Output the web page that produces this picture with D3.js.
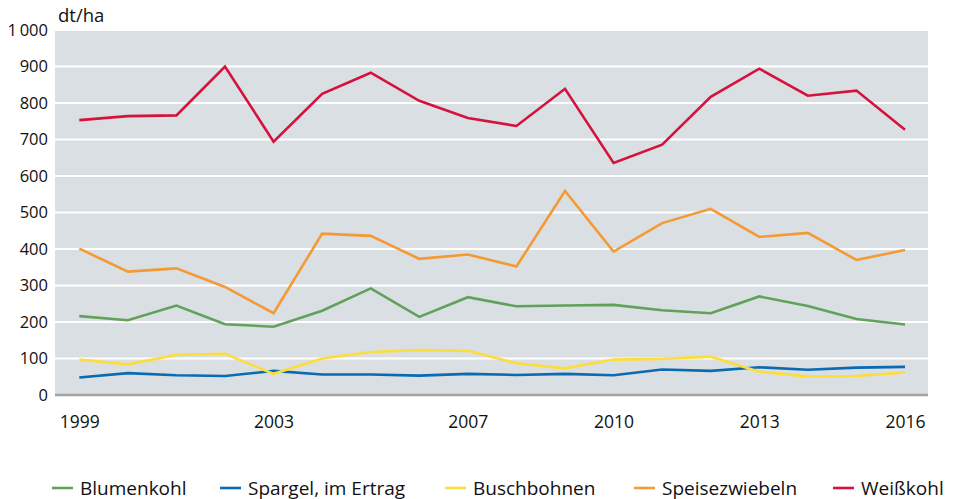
<!DOCTYPE html>
<html><head><meta charset="utf-8">
<script src="https://cdn.jsdelivr.net/npm/d3@7"></script>
<style>body{margin:0;background:#fff;} text{font-family:"Open Sans","Noto Sans",sans-serif;fill:#111;}</style>
</head><body>
<svg id="c" width="958" height="499"></svg>
<script>
const years = [1999,2000,2001,2002,2003,2004,2005,2006,2007,2008,2009,2010,2011,2012,2013,2014,2015,2016];
const tickYears = [1999,2003,2007,2010,2013,2016];
const yTicks = [0,100,200,300,400,500,600,700,800,900,1000];
const blumenkohl = [216,205,245,194,187,231,292,214,268,243,245,247,232,224,270,244,208,193];
const spargel = [48,60,54,52,66,56,56,53,58,55,58,54,70,66,76,69,75,77];
const buschbohnen = [97,84,110,113,58,100,118,123,121,87,73,97,99,105,64,51,52,62];
const speisezwiebeln = [401,338,347,296,224,442,436,373,385,352,559,393,471,510,433,444,370,397];
const weisskohl = [753,764,766,900,694,825,883,806,759,737,839,636,686,817,894,820,834,727];
const seriesNames = ["Blumenkohl","Spargel, im Ertrag","Buschbohnen","Speisezwiebeln","Weißkohl"];
const seriesColors = ["#62a15a","#0a6ab2","#fddd3d","#f39a34","#d5123d"];
const seriesData = [blumenkohl,spargel,buschbohnen,speisezwiebeln,weisskohl];

const svg = d3.select("#c");
const L=55,R=928,T=30,B=395;
const x = d3.scaleLinear().domain([1999,2016]).range([79.3,905]);
const y = d3.scaleLinear().domain([0,1000]).range([B,T]);
const FF = "'Open Sans','Noto Sans',sans-serif";

svg.append("rect").attr("x",L).attr("y",T+1).attr("width",R-L).attr("height",B-T-1).attr("fill","#dadfe3");
// grid
svg.append("g").selectAll("line").data(yTicks.filter(d=>d>0&&d<1000)).join("line")
  .attr("x1",L).attr("x2",R).attr("y1",d=>y(d)).attr("y2",d=>y(d))
  .attr("stroke","#fff").attr("stroke-width",2);
// baseline
svg.append("line").attr("x1",L).attr("x2",R).attr("y1",B).attr("y2",B).attr("stroke","#a3a3a3").attr("stroke-width",2.5);

// y axis
const fmt = d => d>=1000 ? d3.format(",")(d).replace(",", "\u2009") : String(d);
const yAxis = d3.axisLeft(y).tickValues(yTicks).tickFormat(fmt).tickSize(0).tickPadding(7);
const gy = svg.append("g").attr("transform",`translate(${L},0)`).call(yAxis);
gy.select(".domain").remove();
gy.selectAll("text").attr("font-size",16.5).attr("font-family",FF).attr("fill","#111");

// x axis
const xAxis = d3.axisBottom(x).tickValues(tickYears).tickFormat(d3.format("d")).tickSize(0).tickPadding(21);
const gx = svg.append("g").attr("transform",`translate(0,${B})`).call(xAxis);
gx.select(".domain").remove();
gx.selectAll("text").attr("font-size",17.5).attr("font-family",FF).attr("fill","#111");

svg.append("text").attr("x",58).attr("y",22).attr("font-size",18.5).text("dt/ha");

// lines
const line = d3.line().x((d,i)=>x(years[i])).y(d=>y(d));
svg.append("g").selectAll("path").data(seriesData).join("path")
  .attr("d",line).attr("fill","none")
  .attr("stroke",(d,i)=>seriesColors[i]).attr("stroke-width",2.6).attr("stroke-linejoin","miter");

// legend
const legendX = [52,220,445,634,833];
const lg = svg.append("g");
seriesNames.forEach((n,i)=>{
  const lx = legendX[i];
  lg.append("line").attr("x1",lx).attr("x2",lx+21).attr("y1",488).attr("y2",488).attr("stroke",seriesColors[i]).attr("stroke-width",2.6);
  lg.append("text").attr("x",lx+28).attr("y",494.5).attr("font-size",19).text(n);
});
</script>
</body></html>
